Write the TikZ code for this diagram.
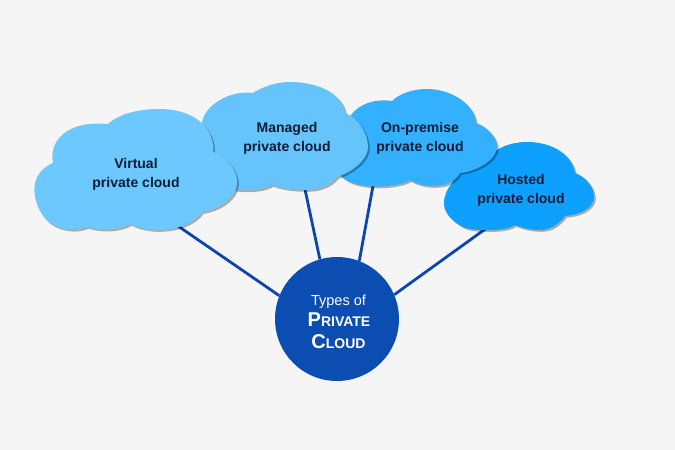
\documentclass[tikz,border=0pt]{standalone}
\usepackage{fontspec}
\setmainfont{Liberation Sans}
\definecolor{bgc}{HTML}{F5F5F5}
\definecolor{linec}{HTML}{0B46AC}
\definecolor{hubc}{HTML}{0B4DB0}
\definecolor{txtc}{HTML}{0A1C33}
\definecolor{cA}{HTML}{6CC8FF}
\definecolor{cB}{HTML}{66C4FC}
\definecolor{cC}{HTML}{33B0FF}
\definecolor{cD}{HTML}{0DA0FF}
\tikzset{
  link/.style={draw=linec,line width=2.8pt},
  cloudshadow/.style={fill=black,fill opacity=.3,shift={(1.8,1.8)}},
  cloudlabel/.style={font=\fontsize{14}{19}\selectfont\bfseries,text=txtc,align=center,inner sep=0pt},
  hubnode/.style={circle,fill=hubc,minimum size=124pt,inner sep=0pt},
  hublabel/.style={text=white,align=center,inner sep=0pt,font=\bfseries}
}
\def\cloudA{(53,163) .. controls (49,145) and (62,120) .. (108,124)
 .. controls (120,113) and (140,109) .. (160,109)
 .. controls (190,109) and (215,125) .. (213,152)
 .. controls (228,158) and (238,172) .. (237,183)
 .. controls (237,198) and (218,210) .. (202,212)
 .. controls (192,225) and (175,230) .. (157,230)
 .. controls (147,230) and (138,228) .. (130,224)
 .. controls (118,231) and (100,231) .. (87,227)
 .. controls (75,232) and (60,230) .. (50,223)
 .. controls (36,213) and (22,176) .. (53,163) -- cycle}
\def\cloudB{(202,122) .. controls (205,106) and (228,90) .. (253,93)
 .. controls (262,87) and (276,82) .. (290,82)
 .. controls (320,82) and (343,95) .. (345,113)
 .. controls (358,118) and (368,133) .. (368,147)
 .. controls (368,160) and (352,172) .. (337,177)
 .. controls (330,186) and (318,190) .. (307,190)
 .. controls (295,190) and (282,189) .. (272,185)
 .. controls (262,191) and (238,193) .. (222,186)
 .. controls (205,170) and (198,140) .. (202,122) -- cycle}
\def\cloudC{(348,120) .. controls (355,106) and (372,98) .. (392,101)
 .. controls (400,93) and (414,89) .. (427,89)
 .. controls (450,89) and (474,103) .. (476,123)
 .. controls (488,127) and (497,138) .. (497,147)
 .. controls (497,159) and (478,171) .. (460,173)
 .. controls (455,182) and (445,186) .. (433,186)
 .. controls (425,186) and (416,184) .. (410,180)
 .. controls (400,187) and (355,192) .. (340,175)
 .. controls (330,160) and (335,130) .. (348,120) -- cycle}
\def\cloudD{(452,183) .. controls (462,160) and (480,150) .. (497,150)
 .. controls (505,145) and (515,142) .. (527,142)
 .. controls (553,142) and (572,155) .. (575,173)
 .. controls (586,177) and (594,187) .. (594,197)
 .. controls (594,208) and (580,215) .. (565,216)
 .. controls (558,225) and (550,230) .. (540,230)
 .. controls (530,230) and (522,228) .. (515,225)
 .. controls (508,229) and (500,230) .. (490,230)
 .. controls (480,230) and (470,230) .. (463,227)
 .. controls (450,220) and (444,212) .. (444,203)
 .. controls (444,195) and (448,188) .. (452,183) -- cycle}
\begin{document}
\begin{tikzpicture}[x=1pt,y=-1pt]
\useasboundingbox (0,0) rectangle (675,450);
\fill[bgc] (0,0) rectangle (675,450);
\coordinate (endA) at (170,220.5);
\coordinate (endB) at (303,180);
\coordinate (endC) at (375,175);
\coordinate (endD) at (495,222);
\node[hubnode] (hub) at (337,319) {};
\draw[link] (hub.158.6) -- (endA);
\draw[link] (hub.106.6) -- (endB);
\draw[link] (hub.69.8) -- (endC);
\draw[link] (hub.23.7) -- (endD);
\fill[cloudshadow] \cloudD;
\fill[cD] \cloudD;
\fill[cloudshadow] \cloudC;
\fill[cC] \cloudC;
\fill[cloudshadow] \cloudB;
\fill[cB] \cloudB;
\fill[cloudshadow] \cloudA;
\fill[cA] \cloudA;
\node[cloudlabel] (labelA) at (136,174) {Virtual\\private cloud};
\node[cloudlabel] (labelB) at (287,138) {Managed\\private cloud};
\node[cloudlabel] (labelC) at (420,138) {On-premise\\private cloud};
\node[cloudlabel] (labelD) at (521,190) {Hosted\\private cloud};
\node[hublabel,font=\fontsize{14.5}{16}\selectfont] (hubtypes) at (338.5,301.5) {Types of};
\node[hublabel] (hubprivate) at (339,320) {\fontsize{20}{22}\selectfont P\fontsize{14}{22}\selectfont RIVATE};
\node[hublabel] (hubcloud) at (338.5,342) {\fontsize{20}{22}\selectfont C\fontsize{14}{22}\selectfont LOUD};
\end{tikzpicture}
\end{document}
